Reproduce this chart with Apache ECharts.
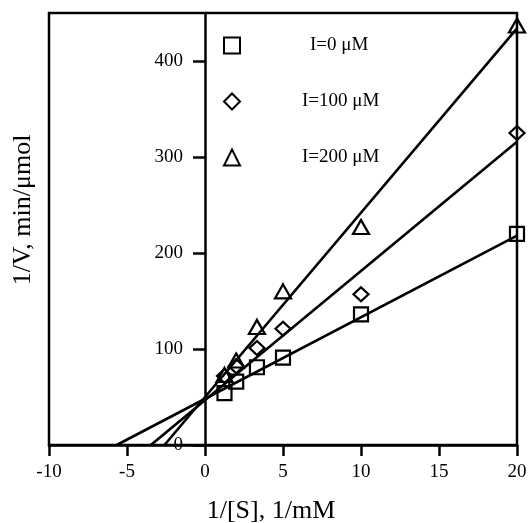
<!DOCTYPE html>
<html>
<head>
<meta charset="UTF-8">
<title>Lineweaver-Burk</title>
<style>
  body{margin:0;padding:0;background:#fff;}
  #chart{width:529px;height:523px;}
</style>
</head>
<body>
<div id="chart"></div>
<script src="https://cdn.jsdelivr.net/npm/echarts@6/dist/echarts.min.js"></script>
<script>
// 1/[S] values (1/mM)
var invS = [1.25, 2, 3.33, 5, 10, 20];
// 1/V values (min/umol) for each inhibitor level
var v0   = [54, 66, 81, 91, 136, 220];
var v100 = [72, 82, 101, 121, 157, 325];
var v200 = [73, 88, 123, 160, 227, 437];
// fitted lines, start and end points
var fitX0 = [-5.66, 20],  fitY0 = [0, 218];
var fitX100 = [-3.47, 20], fitY100 = [0, 316];
var fitX200 = [-2.6, 20],  fitY200 = [0, 434];
var names = ['I=0 \u03bcM', 'I=100 \u03bcM', 'I=200 \u03bcM'];
var yTicks = [0, 100, 200, 300, 400];

function pairs(xs, ys) {
  return xs.map(function (x, i) { return [x, ys[i]]; });
}

var font = 'Liberation Serif';
var chart = echarts.init(document.getElementById('chart'));

var markStyle = {color: 'rgba(0,0,0,0)', borderColor: '#000', borderWidth: 2.2, opacity: 1};
var lineStyle = {color: '#000', width: 2.6};

// y axis sits at x = 0, i.e. one third of the grid width in from the left edge
var gridW = 529 - 49 - 12;
var yOffset = -gridW * 10 / 30;

chart.setOption({
  animation: false,
  backgroundColor: '#fff',
  grid: {
    left: 49, right: 12, top: 13, bottom: 78,
    outerBoundsMode: 'none',
    show: true, borderColor: '#000', borderWidth: 2.5
  },
  legend: {
    orient: 'vertical',
    left: 218, top: 31,
    itemWidth: 16, itemHeight: 16,
    itemGap: 37,
    textStyle: {fontFamily: font, fontSize: 19, color: '#000'},
    data: [
      {name: names[0], textStyle: {padding: [0, 0, 0, 65]}},
      {name: names[1], textStyle: {padding: [0, 0, 0, 57]}},
      {name: names[2], textStyle: {padding: [0, 0, 0, 57]}}
    ]
  },
  xAxis: {
    type: 'value',
    min: -10, max: 20, interval: 5,
    name: '1/[S], 1/mM',
    nameLocation: 'middle',
    nameGap: 53,
    nameTextStyle: {fontFamily: font, fontSize: 26, color: '#000', padding: [0, 24, 0, 0]},
    axisLine: {onZero: false, lineStyle: {color: '#000', width: 2.5}},
    axisTick: {length: 11, lineStyle: {color: '#000', width: 2.5}},
    axisLabel: {fontFamily: font, fontSize: 19, color: '#000', margin: 18},
    splitLine: {show: false}
  },
  yAxis: {
    type: 'value',
    min: 0, max: 450,
    position: 'left',
    offset: yOffset,
    name: '1/V, min/\u03bcmol',
    nameLocation: 'middle',
    nameGap: 169,
    nameTextStyle: {fontFamily: font, fontSize: 26, color: '#000', padding: [0, 0, 0, 38]},
    axisLine: {onZero: false, lineStyle: {color: '#000', width: 2.5}},
    axisTick: {length: 12, customValues: yTicks, lineStyle: {color: '#000', width: 2.5}},
    axisLabel: {fontFamily: font, fontSize: 19, color: '#000', margin: 22, customValues: yTicks},
    splitLine: {show: false}
  },
  series: [
    {type: 'line', data: pairs(fitX0, fitY0), showSymbol: false, lineStyle: lineStyle, z: 3},
    {type: 'line', data: pairs(fitX100, fitY100), showSymbol: false, lineStyle: lineStyle, z: 3},
    {type: 'line', data: pairs(fitX200, fitY200), showSymbol: false, lineStyle: lineStyle, z: 3},
    {name: names[0], type: 'scatter', symbol: 'rect', symbolSize: 14, itemStyle: markStyle, data: pairs(invS, v0), z: 4},
    {name: names[1], type: 'scatter', symbol: 'diamond', symbolSize: [15, 14], itemStyle: markStyle, data: pairs(invS, v100), z: 4},
    {name: names[2], type: 'scatter', symbol: 'triangle', symbolSize: [16, 14], itemStyle: markStyle, data: pairs(invS, v200), z: 4}
  ]
});
</script>
</body>
</html>
